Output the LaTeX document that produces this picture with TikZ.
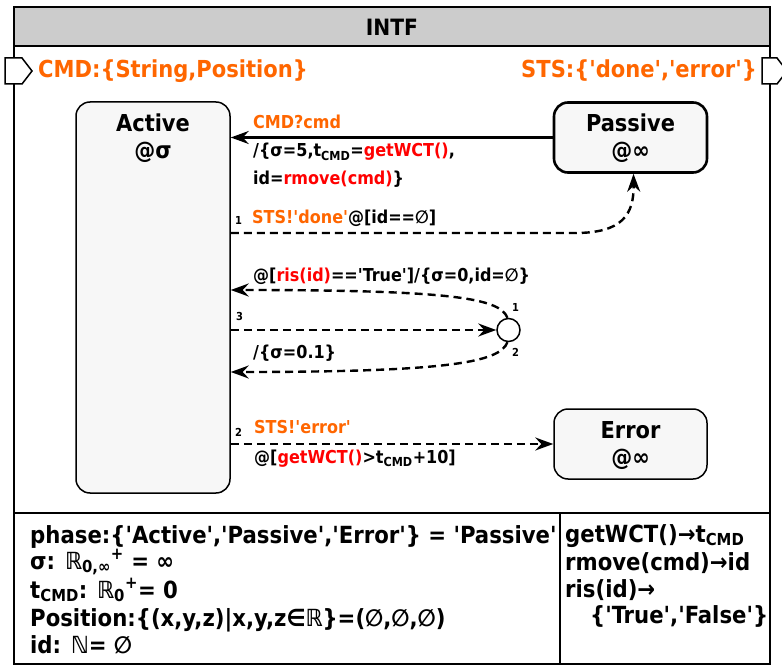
\documentclass[tikz,border=0pt]{standalone}
\usepackage{fontspec}
\setmainfont{DejaVu Sans Condensed}[Ligatures=TeXOff]
\usetikzlibrary{arrows.meta}
\definecolor{org}{HTML}{FF6600}
\definecolor{rd}{HTML}{FF0000}
\definecolor{ttl}{HTML}{CCCCCC}
\definecolor{stfill}{HTML}{F7F7F7}
\newcommand\sbs[1]{\textsubscript{#1}}
\newcommand\sps[1]{\textsuperscript{#1}}
\begin{document}
\begin{tikzpicture}[x=1pt,y=-1pt,
  statebox/.style={draw, fill=stfill, rounded corners=14pt, line width=1.5pt, inner sep=0pt},
  stxt/.style={anchor=base, inner sep=0pt, font=\fontsize{23.3}{27}\selectfont\bfseries},
  lbl/.style={anchor=base west, inner sep=0pt, font=\fontsize{17.8}{21}\selectfont\bfseries},
  hdr/.style={inner sep=0pt, text=org, font=\fontsize{23.4}{27}\selectfont\bfseries},
  tbl/.style={anchor=base west, inner sep=0pt, font=\fontsize{23.6}{27}\selectfont\bfseries},
  num/.style={anchor=base west, inner sep=0pt, font=\fontsize{11}{13}\selectfont\bfseries},
  tip/.style={-{Stealth[length=18pt,width=13pt,inset=6pt]}},
  dsh/.style={tip, line width=2.4pt, dash pattern=on 8pt off 5pt},
  sol/.style={tip, line width=2.4pt},
  port/.style={draw, fill=white, line width=1.5pt}
]
\useasboundingbox (0,0) rectangle (782,666);
% frame
\draw[line width=2pt] (14,7) rectangle (770,664);
\draw[line width=2pt, fill=ttl] (14,7) rectangle (770,46);
\node[inner sep=0pt, font=\fontsize{22.5}{26}\selectfont\bfseries] (title) at (392,27) {INTF};
% ports
\draw[port] (5,58) -- (22,58) -- (32,71) -- (22,84) -- (5,84) -- cycle;
\draw[port] (762,58) -- (777,58) -- (787,71) -- (777,84) -- (762,84) -- cycle;
\node[hdr, anchor=base west] (cmdh) at (38,78) {CMD:\{String,Position\}};
\node[hdr, anchor=base east] (stsh) at (757,78) {STS:\{'done','error'\}};
% states
\node[statebox, minimum width=154pt, minimum height=391pt] (Active) at (153,297.5) {};
\node[stxt] (ActiveT) at (153,131.5) {Active};
\node[stxt] (ActiveS) at (153,159) {@σ};
\node[statebox, line width=2.6pt, minimum width=153pt, minimum height=70pt] (Passive) at (630.5,137.5) {};
\node[stxt] (PassiveT) at (630.5,132) {Passive};
\node[stxt] (PassiveS) at (630.5,159) {@∞};
\node[statebox, minimum width=153pt, minimum height=70pt] (Error) at (630.5,444) {};
\node[stxt] (ErrorT) at (630.5,438) {Error};
\node[stxt] (ErrorS) at (630.5,465) {@∞};
% junction
\node[draw, fill=white, circle, line width=1.5pt, minimum size=23pt, inner sep=0pt] (J) at (508.5,330) {};
% helper levels
\coordinate (y233) at (0,233);
\coordinate (y290) at (0,290);
\coordinate (y372) at (0,372);
% connectors
\draw[sol] (Passive.west) -- (Passive.west -| Active.east);
\draw[dsh] (Active.east |- y233) -- (575,233) .. controls (622,233) and (634,215) .. ([xshift=3pt]Passive.south);
\draw[dsh] (Active.east |- J) -- (J.west);
\draw[dsh] (J.95) .. controls (500,298) and (450,290) .. (Active.east |- y290);
\draw[dsh] (J.265) .. controls (500,362) and (450,372) .. (Active.east |- y372);
\draw[dsh] (Active.east |- Error.west) -- (Error.west);
% labels
\node[lbl, text=org] (l1a) at (253,129) {CMD?cmd};
\node[lbl] (l1b) at (253,157) {/\{σ=5,t\sbs{CMD}=\textcolor{rd}{getWCT()},};
\node[lbl] (l1c) at (253,185) {id=\textcolor{rd}{rmove(cmd)}\}};
\node[num] (n1) at (235,224) {1};
\node[lbl] (l2) at (252,223) {\textcolor{org}{STS!'done'}@[id==∅]};
\node[lbl] (l3) at (253,281) {@[\textcolor{rd}{ris(id)}=='True']/\{σ=0,id=∅\}};
\node[num] (n2) at (512,311) {1};
\node[num] (n3) at (236,320) {3};
\node[num] (n4) at (512,356) {2};
\node[lbl] (l4) at (253,358) {/\{σ=0.1\}};
\node[num] (n5) at (235,436) {2};
\node[lbl, text=org] (l5) at (254,433) {STS!'error'};
\node[lbl] (l6) at (254,463) {@[\textcolor{rd}{getWCT()}>t\sbs{CMD}+10]};
% bottom table
\draw[line width=2pt] (14,513) -- (770,513);
\draw[line width=1.5pt] (560,513) -- (560,664);
\node[tbl] (v1) at (30,543) {phase:\{'Active','Passive','Error'\} = 'Passive'};
\node[tbl] (v2) at (30,569) {σ: ℝ\sbs{0,∞}\sps{+} = ∞};
\node[tbl] (v3) at (30,598) {t\sbs{CMD}: ℝ\sbs{0}\sps{+}= 0};
\node[tbl] (v4) at (30,626) {Position:\{(x,y,z)|x,y,z∈ℝ\}=(∅,∅,∅)};
\node[tbl] (v5) at (30,653) {id: ℕ= ∅};
\node[tbl] (f1) at (565,542) {getWCT()→t\sbs{CMD}};
\node[tbl] (f2) at (565,570) {rmove(cmd)→id};
\node[tbl] (f3) at (565,597) {ris(id)→};
\node[tbl] (f4) at (590,623) {\{'True','False'\}};
\end{tikzpicture}
\end{document}
